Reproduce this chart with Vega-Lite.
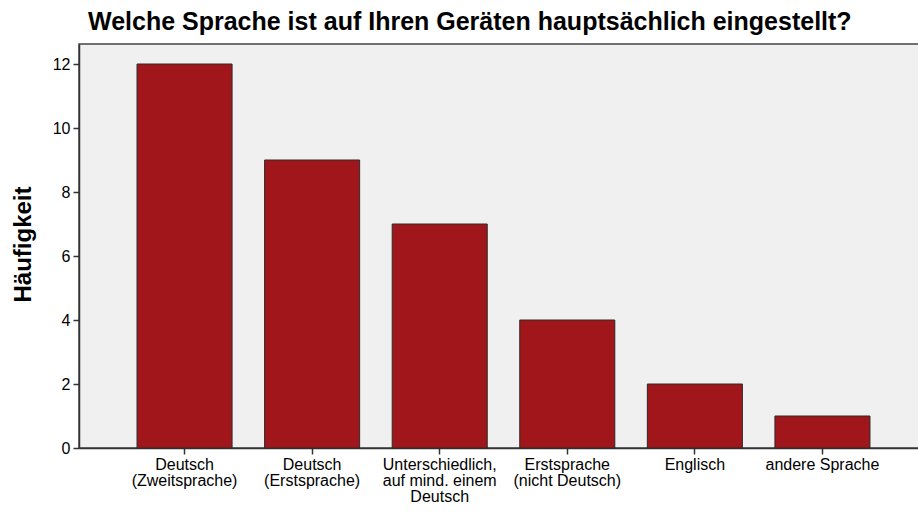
{
  "$schema": "https://vega.github.io/schema/vega-lite/v6.json",
  "width": 841,
  "height": 404,
  "autosize": {"type": "none"},
  "padding": {"left": 79, "top": 44, "right": 0, "bottom": 65},
  "background": "#ffffff",
  "config": {
    "font": "Liberation Sans",
    "view": {"fill": "#f0f0f0", "stroke": "#444444", "strokeWidth": 1.5}
  },
  "title": {
    "text": "Welche Sprache ist auf Ihren Geräten hauptsächlich eingestellt?",
    "anchor": "start",
    "frame": "group",
    "dx": 9,
    "offset": 9,
    "fontSize": 25,
    "fontWeight": "bold",
    "font": "Liberation Sans",
    "color": "#000000"
  },
  "data": {
    "values": [
      {"Sprache": "Deutsch|(Zweitsprache)", "Haeufigkeit": 12},
      {"Sprache": "Deutsch|(Erstsprache)", "Haeufigkeit": 9},
      {"Sprache": "Unterschiedlich,|auf mind. einem|Deutsch", "Haeufigkeit": 7},
      {"Sprache": "Erstsprache|(nicht Deutsch)", "Haeufigkeit": 4},
      {"Sprache": "Englisch", "Haeufigkeit": 2},
      {"Sprache": "andere Sprache", "Haeufigkeit": 1}
    ]
  },
  "mark": {"type": "bar", "fill": "#a0161b", "stroke": "#2a2a2a", "strokeWidth": 1},
  "encoding": {
    "x": {
      "field": "Sprache",
      "type": "nominal",
      "sort": null,
      "scale": {"paddingInner": 0.255, "paddingOuter": 0.4235, "align": 0.537},
      "axis": {
        "title": null,
        "labelAngle": 0,
        "labelExpr": "split(datum.value, '|')",
        "labelFontSize": 16,
        "labelLineHeight": 16,
        "labelColor": "#000000",
        "labelPadding": 2,
        "labelBound": false,
        "labelOverlap": false,
        "tickSize": 6,
        "tickColor": "#333333",
        "tickWidth": 1.5,
        "domainColor": "#333333",
        "domainWidth": 1.5,
        "labelFont": "Liberation Sans"
      }
    },
    "y": {
      "field": "Haeufigkeit",
      "type": "quantitative",
      "scale": {"domain": [0, 12.625], "nice": false},
      "axis": {
        "title": "Häufigkeit",
        "values": [0, 2, 4, 6, 8, 10, 12],
        "grid": false,
        "labelFontSize": 16,
        "labelColor": "#000000",
        "labelPadding": 3,
        "tickSize": 6,
        "tickColor": "#333333",
        "tickWidth": 1.5,
        "domainColor": "#333333",
        "domainWidth": 1.5,
        "titleFontSize": 24,
        "titleFontWeight": "bold",
        "titleColor": "#000000",
        "titleX": -56,
        "titleY": 200,
        "titleAngle": -90,
        "titleAlign": "center",
        "titleBaseline": "middle",
        "labelFont": "Liberation Sans",
        "titleFont": "Liberation Sans"
      }
    }
  }
}
